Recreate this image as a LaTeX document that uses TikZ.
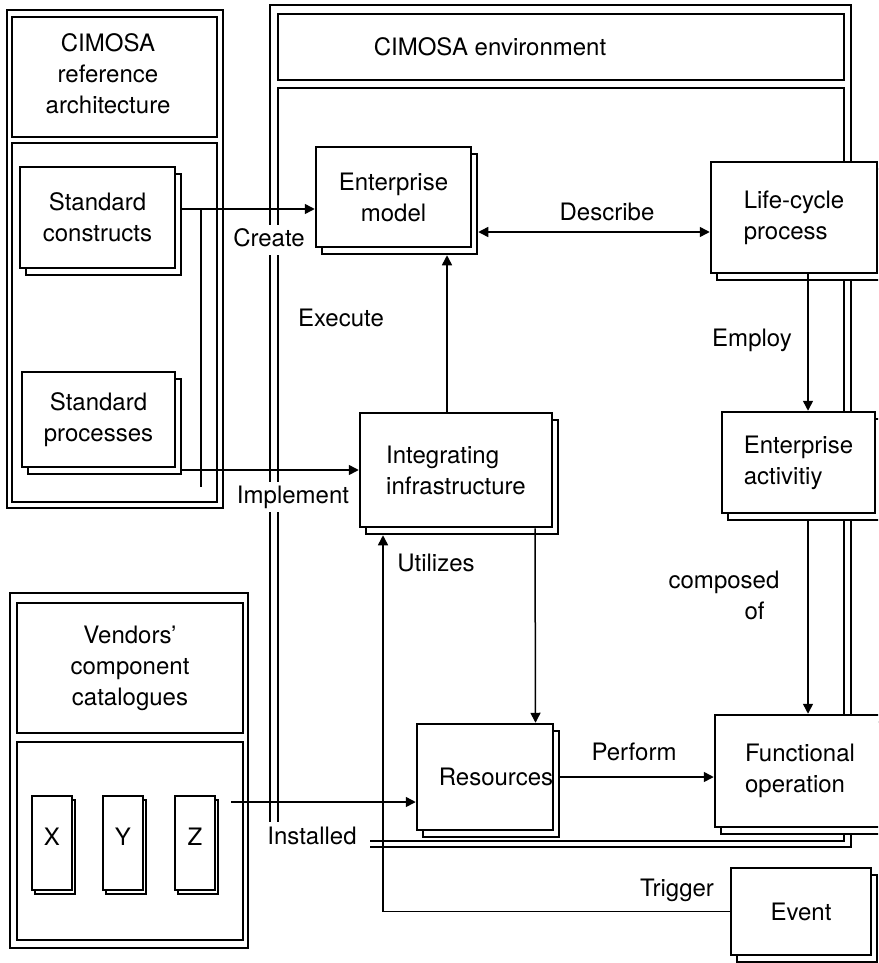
\documentclass[tikz,border=0pt]{standalone}
\usepackage{fontspec}
\setmainfont{TeX Gyre Heros}
\usetikzlibrary{arrows.meta}

% box with a drop copy behind it: name, x1, y1, x2, y2, dx, dy, text options, text
\newcommand{\dupbox}[9]{%
  \draw[bxline] (#2+#6,#3+#7) rectangle (#4+#6,#5+#7);
  \node[bx, #8, minimum width={(#4-#2)*1pt}, minimum height={(#5-#3)*1pt}]
    (#1) at ({(#2+#4)/2},{(#3+#5)/2}) {#9};
}

\begin{document}
\begin{tikzpicture}[x=1pt,y=-1pt,
  txt/.style={font=\fontsize{24}{31}\selectfont},
  bxline/.style={draw, line width=2.5pt, fill=white},
  bx/.style={bxline, inner sep=0pt, txt},
  outerline/.style={line width=1.7pt},
  innerline/.style={line width=2.4pt},
  ln/.style={line width=1.5pt},
  arr/.style={ln, -{Triangle[length=10pt,width=10pt]}},
  darr/.style={ln, {Triangle[length=10pt,width=10pt]}-{Triangle[length=10pt,width=10pt]}},
  lbl/.style={txt, fill=white, inner sep=2pt, text height=19pt, text depth=7pt},
  tag/.style={txt, inner sep=1pt}
]
\useasboundingbox (0,0) rectangle (878,963);
\clip (0,0) rectangle (878,963);
\fill[white] (0,0) rectangle (878,963);

% ---- reference architecture panel ----
\draw[outerline] (7,10) rectangle (223,508);
\draw[innerline] (12,17) rectangle (217,137);
\draw[innerline] (12,143) rectangle (217,502);
\node[txt, align=center] (refarch) at (108,74) {CIMOSA\\reference\\architecture};

% ---- vendors panel ----
\draw[outerline] (10,593) rectangle (248,948);
\draw[innerline] (17,603) rectangle (243,733);
\draw[innerline] (17,742) rectangle (243,940);
\node[txt, align=center] (vendors) at (130,668) {Vendors'\\component\\catalogues};

% ---- environment panel (open at the lower left corner) ----
\draw[outerline] (370,847) -- (851,847) -- (851,5) -- (270,5) -- (270,822);
\draw[innerline] (370,841) -- (844,841) -- (844,88) -- (278,88) -- (278,822);
\draw[innerline] (278,14) rectangle (844,80);
\node[txt] (envtitle) at (490,47) {CIMOSA environment};

% ---- boxes ----
\dupbox{sc}{20}{167}{175}{268}{6}{7}{align=center}{Standard\\constructs}
\dupbox{sp}{22}{372}{175}{467}{6}{7}{align=center}{Standard\\processes}
\dupbox{em}{316}{147}{471}{247}{6}{7}{align=center}{Enterprise\\model}
\dupbox{lc}{711}{162}{877}{273}{6}{7}{align=left}{Life-cycle\\process}
\dupbox{ii}{360}{413}{552}{527}{6}{7}{align=left}{Integrating\\infrastructure}
\dupbox{ea}{722}{412}{875}{513}{6}{7}{align=left}{Enterprise\\activitiy}
\dupbox{re}{417}{724}{553}{830}{6}{7}{}{}
\node[txt] (retext) at (496,777) {Resources};
\dupbox{fo}{715}{715}{885}{827}{6}{7}{align=left}{Functional\\operation}
\dupbox{ev}{731}{868}{871}{955}{6}{7}{}{Event}

\dupbox{cx}{32}{796}{72}{890}{3}{4}{}{}
\dupbox{cy}{103}{796}{143}{890}{3}{4}{}{}
\dupbox{cz}{175}{796}{215}{890}{3}{4}{}{}
\node[txt] at ([yshift=6pt]cx.center) {X};
\node[txt] at ([yshift=6pt]cy.center) {Y};
\node[txt] at ([yshift=6pt]cz.center) {Z};

% ---- connectors ----
\draw[arr] ([shift={(6pt,8.5pt)}]sc.east) -- ([yshift=-12pt]em.west);
\draw[arr] ([shift={(6pt,-50.5pt)}]sp.east) -- (ii.west);
\coordinate (tvtop) at (201,209);
\coordinate (tvbot) at (201,487);
\draw[ln] (tvtop) -- (tvbot);
\draw[arr] ([xshift=-9pt]ii.north) -- ([shift={(53.5pt,-7pt)}]em.south);
\draw[darr] ([shift={(6pt,-35pt)}]em.east) -- ([yshift=-14.5pt]lc.west);
\draw[arr] ([xshift=14pt]lc.south) -- ([xshift=9.5pt]ea.north);
\draw[arr] ([shift={(9.5pt,-7pt)}]ea.south) -- ([xshift=8pt]fo.north);
\draw[arr] ([xshift=79pt]ii.south) -- ([xshift=50.5pt]re.north);
\draw[arr] (ev.west) -| ([shift={(-73pt,-7pt)}]ii.south);
\draw[arr] ([shift={(15pt,41pt)}]cz.east) -- ([yshift=-25pt]re.west);
\draw[arr] ([xshift=6pt]re.east) -- ([yshift=-6pt]fo.west);

% ---- connector labels ----
\node[lbl] at (269,240) {Create};
\node[lbl] at (293,497) {Implement};
\node[lbl] at (312,838) {Installed};
\node[tag] at (341,318) {Execute};
\node[tag] at (607,212) {Describe};
\node[tag] at (752,340) {Employ};
\node[tag] at (436,563) {Utilizes};
\node[tag, align=left] at (724,595) {composed\\\hspace*{76pt}of};
\node[tag] at (634,752) {Perform};
\node[tag] at (677,890) {Trigger};
\end{tikzpicture}
\end{document}
